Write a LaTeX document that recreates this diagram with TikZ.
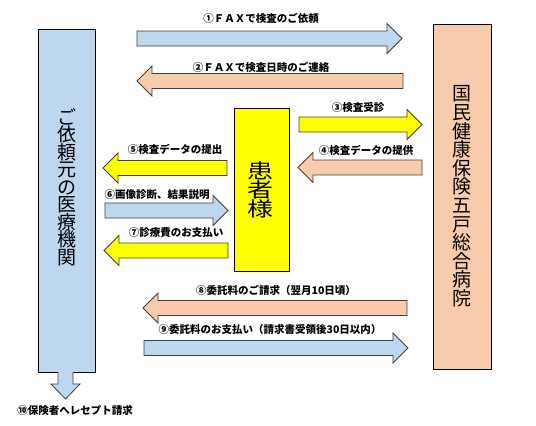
\documentclass[tikz,border=0pt]{standalone}
\usepackage{fontspec}
\setmainfont{Noto Sans CJK JP}
\newfontfamily\jpfont{Noto Sans CJK JP}
\definecolor{lblue}{HTML}{BDD7EE}
\definecolor{lorange}{HTML}{F8CBAD}
\definecolor{lyellow}{HTML}{FFFF00}
\definecolor{edgegray}{HTML}{404040}
\newcommand\blockarrow[4]{%
  \pgfmathsetmacro\hb{#3-15*sign(#3-#2)}%
  \draw[arrowshape,#1] (#2,#4-7.5) -- (\hb,#4-7.5) -- (\hb,#4-15) -- (#3,#4)
     -- (\hb,#4+15) -- (\hb,#4+7.5) -- (#2,#4+7.5) -- cycle;}
\begin{document}
\begin{tikzpicture}[x=1pt,y=-1pt,
  arrowshape/.style={draw=edgegray,line width=0.8pt,line join=miter},
  bluefill/.style={fill=lblue},
  orangefill/.style={fill=lorange},
  yellowfill/.style={fill=lyellow},
  box/.style={draw=black,line width=0.9pt,inner sep=0pt},
  lbl/.style={font=\fontsize{10.5}{12}\selectfont\bfseries,inner sep=0pt},
  vtext/.style={align=center,inner sep=0pt}]
\useasboundingbox[fill=white] (0,0) rectangle (536,426);

% boxes
\node[box,fill=lblue,minimum width=57pt,minimum height=343pt] (src) at (66.5,200.5) {};
\node[vtext,font=\fontsize{19}{17.5}\selectfont] (srctext) at (66.5,187) {ご\\依\\頼\\元\\の\\医\\療\\機\\関};
\node[box,fill=lorange,minimum width=58pt,minimum height=345pt,vtext,font=\fontsize{19}{18.6}\selectfont] (hosp) at (462,196.5) {国\\民\\健\\康\\保\\険\\五\\戸\\総\\合\\病\\院};
\node[box,fill=lyellow,minimum width=55pt,minimum height=163pt] (pat) at (261.5,189.5) {};
\node[vtext,font=\fontsize{20}{18}\selectfont,xscale=1.3,transform shape] (pattext) at (260.5,190) {患\\者\\様};

% arrows
\blockarrow{bluefill}{137}{402}{38.5}
\blockarrow{orangefill}{403}{137}{81}
\blockarrow{yellowfill}{299}{422}{124.5}
\blockarrow{orangefill}{422}{298}{167.5}
\blockarrow{yellowfill}{227}{103}{168}
\blockarrow{bluefill}{105}{228}{210.5}
\blockarrow{yellowfill}{228}{104}{250.5}
\blockarrow{orangefill}{407}{143}{308}
\blockarrow{bluefill}{144}{408}{348}
\draw[arrowshape,bluefill] (58,372) -- (58,384) -- (51,384) -- (65.5,399) -- (80,384) -- (73,384) -- (73,372);

% labels
\node[lbl] (l1) at (261,18) {①ＦＡＸで検査のご依頼};
\node[lbl] (l2) at (261,67) {②ＦＡＸで検査日時のご連絡};
\node[lbl] (l3) at (358,108) {③検査受診};
\node[lbl] (l4) at (366,150) {④検査データの提供};
\node[lbl] (l5) at (175,149) {⑤検査データの提出};
\node[lbl] (l6) at (157,195) {⑥画像診断、結果説明};
\node[lbl] (l7) at (176,233) {⑦診療費のお支払い};
\node[lbl] (l8) at (276,290) {⑧委託料のご請求（翌月10日頃）};
\node[lbl] (l9) at (270,329) {⑨委託料のお支払い（請求書受領後30日以内）};
\node[lbl] (l10) at (75,410) {⑩保険者へレセプト請求};
\end{tikzpicture}
\end{document}
